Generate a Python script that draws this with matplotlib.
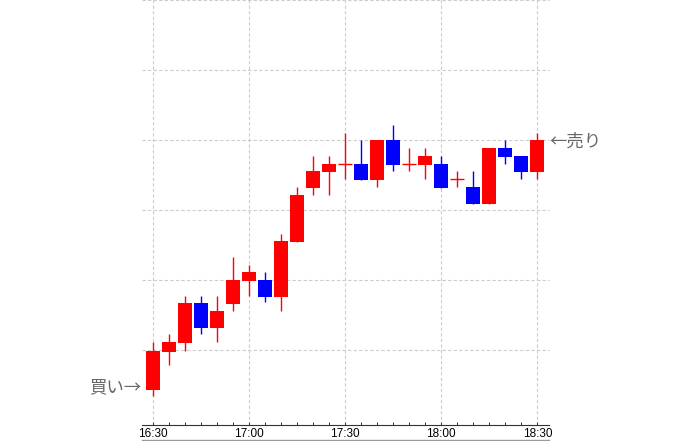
"""Recreate the 5-minute candlestick chart with buy/sell markers."""

import matplotlib

matplotlib.use("Agg")
import matplotlib.pyplot as plt

times = ["16:30", "16:35", "16:40", "16:45", "16:50", "16:55",
         "17:00", "17:05", "17:10", "17:15", "17:20", "17:25",
         "17:30", "17:35", "17:40", "17:45", "17:50", "17:55",
         "18:00", "18:05", "18:10", "18:15", "18:20", "18:25", "18:30"]
opens = [4.3, 9.7, 11.0, 16.7, 13.1, 16.6, 19.9, 20.0, 17.6, 25.5, 33.2, 35.5,
         36.6, 36.6, 34.3, 40.0, 36.6, 36.5, 36.6, 34.4, 33.3, 30.9, 38.9, 37.7, 35.4]
highs = [11.1, 12.3, 17.7, 17.7, 17.7, 23.3, 22.1, 21.1, 26.6, 33.3, 37.7, 37.7,
         41.0, 40.0, 40.0, 42.1, 38.9, 38.9, 37.7, 35.6, 35.6, 38.9, 40.0, 37.7, 41.0]
lows = [3.4, 7.9, 9.9, 12.3, 11.1, 15.6, 17.7, 16.8, 15.6, 25.5, 32.2, 32.2,
        34.4, 34.3, 33.3, 35.6, 35.6, 34.4, 33.2, 33.3, 30.9, 30.9, 36.6, 34.5, 34.5]
closes = [9.9, 11.1, 16.7, 13.1, 15.6, 20.0, 21.1, 17.6, 25.6, 32.1, 35.6, 36.6,
          36.6, 34.3, 40.0, 36.5, 36.6, 37.7, 33.2, 34.4, 30.9, 38.9, 37.6, 35.4, 40.0]
major_labels = ["16:30", "17:00", "17:30", "18:00", "18:30"]
grid_levels = [10, 20, 30, 40, 50, 60]
buy_label, buy_price = "買い→", 4.7
sell_label, sell_price = "←売り", 39.8

UP = "#ff0000"
DOWN = "#0000ff"
BODY_W = 0.875

fig = plt.figure(figsize=(6.9, 4.41), dpi=100)
ax = fig.add_axes([142 / 690, 16 / 441, 407 / 690, 425 / 441])

ax.set_xlim(-0.71, 24.73)
ax.set_ylim(-0.714, 60)

# dashed grid first so candles sit on top
for lvl in grid_levels:
    ax.axhline(lvl, color="#cccccc", lw=0.8, ls=(0, (3, 2)), zorder=0, clip_on=False)
major_idx = [times.index(t) for t in major_labels]
for i in major_idx:
    ax.axvline(i, color="#cccccc", lw=0.8, ls=(0, (3, 2)), zorder=0)

for i, (o, h, l, c) in enumerate(zip(opens, highs, lows, closes)):
    color = DOWN if c < o else UP
    ax.vlines(i, l, h, color=color, lw=1.0, zorder=2, snap=True)
    if o == c:
        ax.hlines(o, i - BODY_W / 2, i + BODY_W / 2, color=color, lw=1.0,
                  zorder=3, snap=True)
    else:
        ax.bar(i, abs(c - o), bottom=min(o, c), width=BODY_W, color=color,
               linewidth=0, zorder=3)

jp_font = ["Noto Sans CJK JP", "DejaVu Sans"]
ax.text(-0.77, buy_price, buy_label, ha="right", va="center", fontsize=12.5,
        color="#666666", family=jp_font, clip_on=False)
ax.text(24.75, sell_price, sell_label, ha="left", va="center", fontsize=12.5,
        color="#666666", family=jp_font, clip_on=False)

ax.set_xticks(major_idx)
ax.set_xticklabels(major_labels, fontsize=8.5, family="Liberation Sans")
ax.set_xticks(range(len(times)), minor=True)
ax.tick_params(axis="x", which="both", direction="in", length=2.5,
               color="#333333", width=0.7, pad=2.5)
ax.set_yticks([])
for side in ("top", "left", "right"):
    ax.spines[side].set_visible(False)
ax.spines["bottom"].set_color("#333333")
ax.spines["bottom"].set_linewidth(0.8)

# light rule under the time labels
ax.plot([0, 1], [-15 / 425, -15 / 425], transform=ax.transAxes, color="#999999",
        lw=1.0, clip_on=False)

fig.savefig("out.png", dpi=100)
